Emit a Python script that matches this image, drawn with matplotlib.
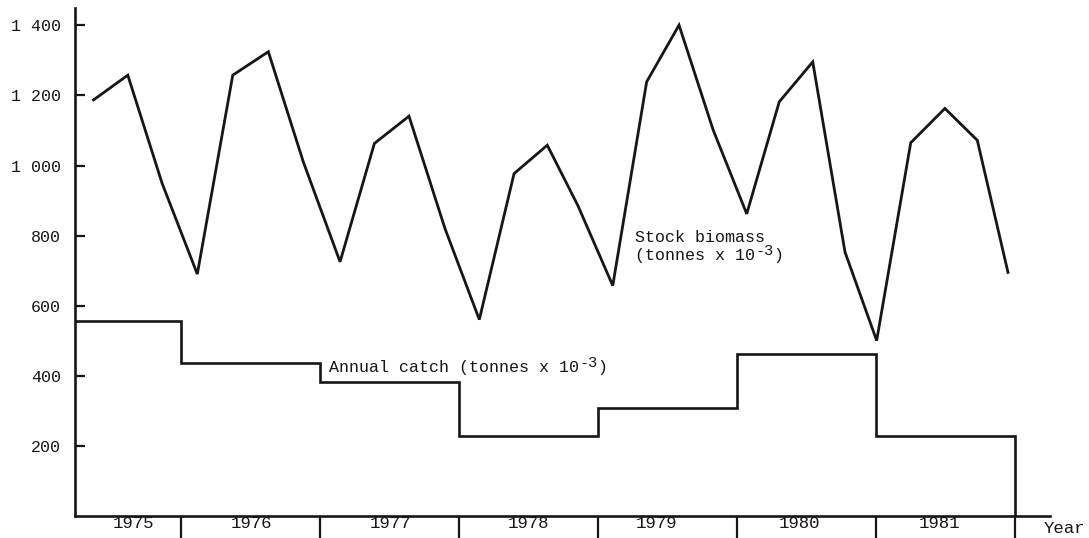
import matplotlib
matplotlib.use("Agg")
import matplotlib.pyplot as plt
import matplotlib.transforms as mtransforms

# Stock biomass (tonnes x 10^-3), sampled roughly quarterly
biomass_time = [1975.362, 1975.617, 1975.863, 1976.117, 1976.372, 1976.628, 1976.880,
                1977.144, 1977.391, 1977.640, 1977.899, 1978.146, 1978.396, 1978.635,
                1978.856, 1979.106, 1979.350, 1979.583, 1979.829, 1980.070, 1980.304,
                1980.545, 1980.777, 1981.005, 1981.250, 1981.496, 1981.729, 1981.952]
biomass = [1185, 1258, 950, 690, 1258, 1325, 1010,
           725, 1063, 1141, 820, 560, 977, 1058,
           885, 657, 1239, 1401, 1101, 862, 1182,
           1296, 753, 500, 1065, 1163, 1072, 691]

# Annual catch (tonnes x 10^-3)
years = [1975, 1976, 1977, 1978, 1979, 1980, 1981]
catch = [556, 437, 383, 228, 308, 462, 228]

y_ticks = [200, 400, 600, 800, 1000, 1200, 1400]

INK = "#161616"
MONO = "Liberation Mono"

plt.rcParams["font.family"] = [MONO, "DejaVu Sans"]

fig = plt.figure(figsize=(10.89, 5.38), dpi=100)
W, H = 1089, 538
ax = fig.add_axes([75 / W, 22.3 / H, (1050 - 75) / W, (515.7 - 8.3) / H])

# Biomass line
ax.plot(biomass_time, biomass, color=INK, lw=2.0, solid_joinstyle="miter",
        solid_capstyle="butt", zorder=3)

# Catch as a step outline dropping to the axis at the end of 1981
edges = years + [years[-1] + 1]
ax.stairs(catch, edges, baseline=0, color=INK, lw=1.9, zorder=3)

ax.set_xlim(1975.237, 1982.252)
ax.set_ylim(0, 1449)

for side in ("top", "right"):
    ax.spines[side].set_visible(False)
for side in ("left", "bottom"):
    ax.spines[side].set_linewidth(1.9)
    ax.spines[side].set_color(INK)

# Y axis: inward ticks, labels with space as thousands separator
ax.set_yticks(y_ticks)
ax.set_yticklabels([f"{v:,}".replace(",", " ") for v in y_ticks])
ax.tick_params(axis="y", direction="in", length=7, width=1.6, pad=10,
               labelsize=12, colors=INK)

# X axis: boundary ticks between years, year names between them
ax.set_xticks(edges[1:])
ax.set_xticklabels([""] * len(edges[1:]))
ax.tick_params(axis="x", which="major", direction="out", length=16, width=1.6,
               colors=INK)
label_nudge = [0.16, 0.01, 0.01, 0.0, -0.08, -0.05, -0.04]
ax.set_xticks([y + 0.5 + d for y, d in zip(years, label_nudge)], minor=True)
ax.set_xticklabels([str(y) for y in years], minor=True)
ax.tick_params(axis="x", which="minor", length=0, pad=0.5, labelsize=12.5,
               labelcolor=INK)

trans = mtransforms.blended_transform_factory(ax.transData, ax.transAxes)
ax.text(1982.353, -0.011, "Year", transform=trans, ha="center", va="top",
        fontsize=12.5, color=INK, clip_on=False)


def unit_label(x, y, lead):
    """Write `lead` + '10' with a raised '-3' exponent and closing bracket."""
    base = ax.text(x, y, lead + "10", ha="left", va="baseline",
                   fontsize=12, color=INK)
    sup = ax.annotate("-3", xy=(1, 0), xycoords=base, xytext=(0.3, 3.6),
                      textcoords="offset points", ha="left", va="bottom",
                      fontsize=11, color=INK)
    ax.annotate(")", xy=(1, 0), xycoords=sup, xytext=(0, -3.6),
                textcoords="offset points", ha="left", va="bottom",
                fontsize=12, color=INK)


# Series annotations
ax.text(1979.266, 783, "Stock biomass", ha="left", va="baseline",
        fontsize=12, color=INK)
unit_label(1979.266, 731, "(tonnes x ")
unit_label(1977.065, 409, "Annual catch (tonnes x ")

fig.savefig("out.png", dpi=100)
